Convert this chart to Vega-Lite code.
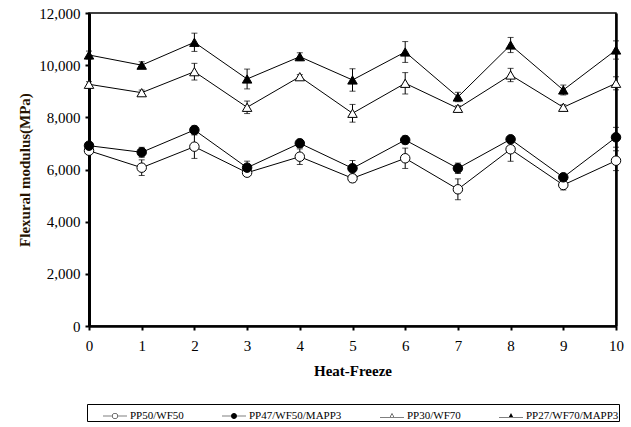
{
  "$schema": "https://vega.github.io/schema/vega-lite/v6.json",
  "width": 527,
  "height": 313,
  "autosize": {"type": "none"},
  "padding": {"left": 89, "top": 13, "right": 15, "bottom": 101},
  "background": "white",
  "config": {"view": {"stroke": "black", "strokeWidth": 1.5}, "font": "Liberation Serif"},
  "data": {"values": [
    {"hf": 0, "series": "PP50/WF50", "wf": "WF50", "mean": 6721, "err": 100},
    {"hf": 1, "series": "PP50/WF50", "wf": "WF50", "mean": 6070, "err": 300},
    {"hf": 2, "series": "PP50/WF50", "wf": "WF50", "mean": 6875, "err": 450},
    {"hf": 3, "series": "PP50/WF50", "wf": "WF50", "mean": 5878, "err": 100},
    {"hf": 4, "series": "PP50/WF50", "wf": "WF50", "mean": 6491, "err": 300},
    {"hf": 5, "series": "PP50/WF50", "wf": "WF50", "mean": 5663, "err": 150},
    {"hf": 6, "series": "PP50/WF50", "wf": "WF50", "mean": 6430, "err": 390},
    {"hf": 7, "series": "PP50/WF50", "wf": "WF50", "mean": 5241, "err": 400},
    {"hf": 8, "series": "PP50/WF50", "wf": "WF50", "mean": 6775, "err": 460},
    {"hf": 9, "series": "PP50/WF50", "wf": "WF50", "mean": 5406, "err": 190},
    {"hf": 10, "series": "PP50/WF50", "wf": "WF50", "mean": 6338, "err": 380},
    {"hf": 0, "series": "PP47/WF50/MAPP3", "wf": "WF50", "mean": 6913, "err": 100},
    {"hf": 1, "series": "PP47/WF50/MAPP3", "wf": "WF50", "mean": 6660, "err": 190},
    {"hf": 2, "series": "PP47/WF50/MAPP3", "wf": "WF50", "mean": 7515, "err": 150},
    {"hf": 3, "series": "PP47/WF50/MAPP3", "wf": "WF50", "mean": 6070, "err": 250},
    {"hf": 4, "series": "PP47/WF50/MAPP3", "wf": "WF50", "mean": 7005, "err": 150},
    {"hf": 5, "series": "PP47/WF50/MAPP3", "wf": "WF50", "mean": 6046, "err": 300},
    {"hf": 6, "series": "PP47/WF50/MAPP3", "wf": "WF50", "mean": 7131, "err": 150},
    {"hf": 7, "series": "PP47/WF50/MAPP3", "wf": "WF50", "mean": 6046, "err": 200},
    {"hf": 8, "series": "PP47/WF50/MAPP3", "wf": "WF50", "mean": 7158, "err": 100},
    {"hf": 9, "series": "PP47/WF50/MAPP3", "wf": "WF50", "mean": 5701, "err": 100},
    {"hf": 10, "series": "PP47/WF50/MAPP3", "wf": "WF50", "mean": 7235, "err": 380},
    {"hf": 0, "series": "PP30/WF70", "wf": "WF70", "mean": 9267, "err": 100},
    {"hf": 1, "series": "PP30/WF70", "wf": "WF70", "mean": 8945, "err": 100},
    {"hf": 2, "series": "PP30/WF70", "wf": "WF70", "mean": 9750, "err": 320},
    {"hf": 3, "series": "PP30/WF70", "wf": "WF70", "mean": 8385, "err": 240},
    {"hf": 4, "series": "PP30/WF70", "wf": "WF70", "mean": 9558, "err": 80},
    {"hf": 5, "series": "PP30/WF70", "wf": "WF70", "mean": 8155, "err": 340},
    {"hf": 6, "series": "PP30/WF70", "wf": "WF70", "mean": 9305, "err": 410},
    {"hf": 7, "series": "PP30/WF70", "wf": "WF70", "mean": 8346, "err": 100},
    {"hf": 8, "series": "PP30/WF70", "wf": "WF70", "mean": 9623, "err": 255},
    {"hf": 9, "series": "PP30/WF70", "wf": "WF70", "mean": 8385, "err": 100},
    {"hf": 10, "series": "PP30/WF70", "wf": "WF70", "mean": 9305, "err": 250},
    {"hf": 0, "series": "PP27/WF70/MAPP3", "wf": "WF70", "mean": 10390, "err": 150},
    {"hf": 1, "series": "PP27/WF70/MAPP3", "wf": "WF70", "mean": 10000, "err": 130},
    {"hf": 2, "series": "PP27/WF70/MAPP3", "wf": "WF70", "mean": 10877, "err": 350},
    {"hf": 3, "series": "PP27/WF70/MAPP3", "wf": "WF70", "mean": 9470, "err": 380},
    {"hf": 4, "series": "PP27/WF70/MAPP3", "wf": "WF70", "mean": 10325, "err": 150},
    {"hf": 5, "series": "PP27/WF70/MAPP3", "wf": "WF70", "mean": 9432, "err": 430},
    {"hf": 6, "series": "PP27/WF70/MAPP3", "wf": "WF70", "mean": 10505, "err": 400},
    {"hf": 7, "series": "PP27/WF70/MAPP3", "wf": "WF70", "mean": 8780, "err": 180},
    {"hf": 8, "series": "PP27/WF70/MAPP3", "wf": "WF70", "mean": 10773, "err": 290},
    {"hf": 9, "series": "PP27/WF70/MAPP3", "wf": "WF70", "mean": 9048, "err": 190},
    {"hf": 10, "series": "PP27/WF70/MAPP3", "wf": "WF70", "mean": 10582, "err": 350}
  ]},
  "encoding": {
    "x": {
      "field": "hf", "type": "quantitative",
      "scale": {"domain": [0, 10], "nice": false, "zero": false},
      "axis": {
        "title": "Heat-Freeze", "values": [0,1,2,3,4,5,6,7,8,9,10], "format": "d", "grid": false,
        "domainColor": "black", "domainWidth": 2.5, "tickColor": "black", "tickWidth": 2, "tickSize": 4,
        "labelFont": "Liberation Serif", "labelFontSize": 15, "labelColor": "black", "labelPadding": 8, "labelFlush": false,
        "titleFont": "Liberation Serif", "titleFontSize": 15, "titleFontWeight": "bold", "titleColor": "black", "titlePadding": 10
      }
    }
  },
  "resolve": {"axis": {"y": "independent"}, "scale": {"shape": "independent"}},
  "layer": [
    {
      "mark": {"type": "errorbar", "ticks": {"size": 6, "color": "black"}, "color": "black", "thickness": 1},
      "encoding": {
        "y": {"field": "mean", "type": "quantitative", "scale": {"domain": [0, 12000], "nice": false}, "axis": null},
        "yError": {"field": "err"}
      }
    },
    {
      "mark": {"type": "line", "color": "black", "strokeWidth": 1},
      "encoding": {
        "y": {"field": "mean", "type": "quantitative", "scale": {"domain": [0, 12000], "nice": false},
          "axis": {"orient": "right", "labels": false, "ticks": false, "title": null, "grid": false, "domainColor": "black", "domainWidth": 2.5}},
        "detail": {"field": "series"}
      }
    },
    {
      "mark": {"type": "point", "filled": true, "color": "black", "opacity": 0, "strokeWidth": 0},
      "encoding": {
        "y": {"field": "mean", "type": "quantitative", "scale": {"domain": [0, 12000], "nice": false}, "axis": null},
        "shape": {"field": "series", "type": "nominal",
          "scale": {"domain": ["PP50/WF50", "PP47/WF50/MAPP3", "PP30/WF70", "PP27/WF70/MAPP3"],
            "range": [
              "M-1,-0.022H-0.25V0.022H-1ZM0.25,-0.022H1V0.022H0.25ZM0.25,0A0.25,0.25,0,1,1,-0.25,0A0.25,0.25,0,1,1,0.25,0ZM0.205,0A0.205,0.205,0,1,0,-0.205,0A0.205,0.205,0,1,0,0.205,0Z",
              "M-1,-0.022H-0.25V0.022H-1ZM0.25,-0.022H1V0.022H0.25ZM0.25,0A0.25,0.25,0,1,1,-0.25,0A0.25,0.25,0,1,1,0.25,0Z",
              "M-1,0.078H-0.19V0.122H-1ZM0.19,0.078H1V0.122H0.19ZM0,-0.24L0.2,0.12L-0.2,0.12ZM0,-0.16L-0.13,0.075L0.13,0.075Z",
              "M-1,0.078H-0.19V0.122H-1ZM0.19,0.078H1V0.122H0.19ZM0,-0.24L0.2,0.12L-0.2,0.12Z"
            ]},
          "legend": {
            "orient": "none", "legendX": -2, "legendY": 391, "direction": "horizontal",
            "title": "\u2003", "titleOrient": "left", "titlePadding": 16, "titleFontSize": 11,
            "strokeColor": "black", "padding": 0, "fillColor": "white",
            "symbolSize": 576, "symbolFillColor": "black", "symbolStrokeWidth": 0, "symbolOpacity": 1,
            "labelFont": "Liberation Serif", "labelFontSize": 11, "labelColor": "black", "labelOffset": 3,
            "columnPadding": 38
          }}
      }
    },
    {
      "mark": {"type": "point", "filled": false, "opacity": 1, "stroke": "black", "strokeWidth": 1},
      "encoding": {
        "y": {
          "field": "mean", "type": "quantitative", "scale": {"domain": [0, 12000], "nice": false},
          "axis": {
            "orient": "left", "title": "Flexural modulus(MPa)", "values": [0,2000,4000,6000,8000,10000,12000], "format": ",.0f", "grid": false,
            "domainColor": "black", "domainWidth": 3, "tickColor": "black", "tickWidth": 2, "tickSize": 4,
            "labelFont": "Liberation Serif", "labelFontSize": 15, "labelColor": "black", "labelPadding": 5,
            "titleFont": "Liberation Serif", "titleFontSize": 15, "titleFontWeight": "bold", "titleColor": "#261300", "titlePadding": 6
          }
        },
        "shape": {"field": "wf", "type": "nominal",
          "scale": {"domain": ["WF50", "WF70"], "range": ["circle", "triangle-up"]}, "legend": null},
        "fill": {"field": "series", "type": "nominal",
          "scale": {"domain": ["PP50/WF50", "PP47/WF50/MAPP3", "PP30/WF70", "PP27/WF70/MAPP3"], "range": ["white", "black", "white", "black"]},
          "legend": null},
        "size": {"value": 90}
      }
    }
  ]
}
